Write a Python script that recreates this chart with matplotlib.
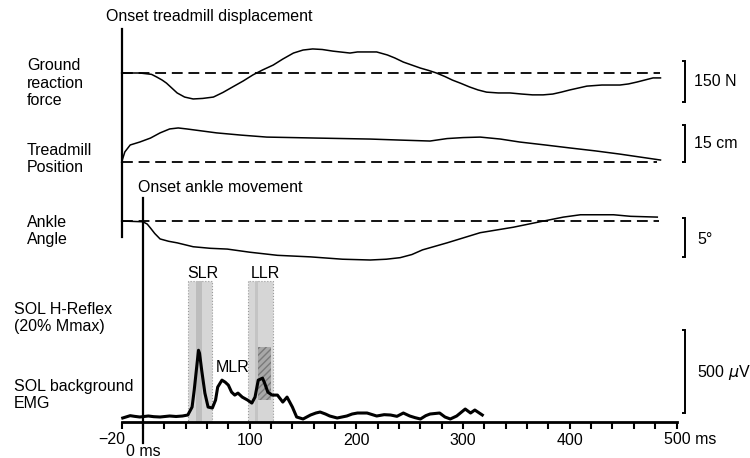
import matplotlib.pyplot as plt

plt.rcParams['font.family'] = ['Liberation Sans', 'DejaVu Sans']
plt.rcParams['font.size'] = 11.5

# ground reaction force (N) vs time (ms)
grf_t = [-20, -3, 8, 13, 18, 22, 27, 32, 39, 47, 56, 66, 75, 84, 94, 103, 112, 122, 131, 141, 150,
         159, 168, 178, 194, 201, 210, 219, 229, 236, 244, 252, 260, 268, 275, 283, 290, 298, 306,
         314, 322, 333, 344, 355, 365, 375, 384, 392, 400, 408, 416, 430, 447, 455, 463, 470, 478, 485]
grf_n = [0, 0, -5, -15, -26, -37, -55, -73, -88, -95, -93, -88, -71, -51, -29, -7, 11, 29, 51, 73, 84,
         88, 86, 80, 73, 77, 77, 77, 66, 55, 40, 29, 18, 9, 0, -13, -26, -38, -51,
         -62, -70, -73, -73, -77, -80, -80, -77, -70, -62, -55, -48, -44, -44, -40, -33, -26, -18, -18]

# treadmill position (cm)
tread_t = [-20, -17, -12, -3, 7, 16, 25, 33, 41, 55, 69, 92, 116, 140, 163, 188, 213, 240, 269, 285,
           300, 316, 335, 353, 377, 400, 424, 447, 466, 485]
tread_cm = [0, 4.1, 6.9, 8.1, 9.7, 11.8, 13.4, 13.8, 13.4, 12.6, 11.8, 10.9, 10.1, 9.9, 9.7, 9.5, 9.3,
            8.9, 8.5, 9.5, 9.9, 10.1, 9.3, 8.1, 6.9, 5.7, 4.5, 3.2, 2.0, 0.8]

# ankle angle (deg)
ankle_t = [-20, 0, 4, 7, 11, 16, 24, 32, 47, 63, 79, 100, 126, 157, 187, 213, 228, 241, 252, 262,
           285, 316, 347, 372, 394, 410, 441, 457, 482]
ankle_deg = [0, -0.1, -0.4, -0.9, -1.6, -2.3, -2.6, -2.8, -3.3, -3.5, -3.6, -4.0, -4.4, -4.6, -4.9,
             -5.0, -4.9, -4.7, -4.3, -3.7, -2.8, -1.5, -0.8, -0.1, 0.5, 0.8, 0.8, 0.6, 0.5]

# SOL background EMG (uV)
emg_t = [-19, -12, -8, -3, 5, 10, 16, 25, 31, 37, 42, 46, 48, 51, 52, 53, 55, 58, 61, 65, 68, 70,
         74, 77, 80, 83, 86, 89, 93, 98, 102, 105, 108, 112, 114, 117, 121, 126, 131, 135, 140,
         144, 150, 157, 162, 166, 171, 175, 182, 191, 196, 201, 210, 219, 226, 232, 238, 244, 250,
         255, 260, 265, 269, 278, 283, 288, 294, 302, 307, 311, 318]
emg_uv = [-6, 8, 4, 0, 6, 2, 0, 6, 3, 6, 12, 60, 162, 342, 402, 384, 282, 144, 60, 54, 102, 180,
          222, 210, 192, 150, 132, 144, 120, 102, 84, 120, 222, 234, 204, 150, 132, 132, 90, 120, 60,
          0, -12, 12, 24, 30, 18, 6, -6, 6, 18, 24, 24, 6, 14, 12, 4, 24, 6,
          -4, -12, 8, 18, 24, 0, -12, 6, 48, 24, 42, 12]

slr_win = (42, 65)
llr_win = (98, 122)
box_top_uv = 819

W, H = 750, 458
X0_PX, PX_PER_MS = 143, 1.067
XLIM = (-X0_PX / PX_PER_MS, (W - X0_PX) / PX_PER_MS)

fig = plt.figure(figsize=(7.5, 4.58), dpi=100)


def layer(base_px, px_per_unit):
    ax = fig.add_axes([0, 0, 1, 1])
    ax.set_xlim(XLIM)
    ax.set_ylim(-(H - base_px) / px_per_unit, base_px / px_per_unit)
    ax.set_axis_off()
    ax.patch.set_alpha(0)
    return ax


def ms(xpx):
    return (xpx - X0_PX) / PX_PER_MS


def bracket(ax, lo, hi):
    t = ms(685)
    ax.plot([t - 3, t, t, t - 3], [lo, lo, hi, hi], color='black', lw=1.4,
            solid_capstyle='butt', solid_joinstyle='miter')


dash = (0, (6, 3.2))

ax_grf = layer(73, 41 / 150)
ax_grf.plot(grf_t, grf_n, color='black', lw=1.1)
ax_grf.plot([-20, 485], [0, 0], color='black', lw=1.3, ls=dash)
bracket(ax_grf, 12 * 150 / 41 - 150, 12 * 150 / 41)

ax_tr = layer(162, 37 / 15)
ax_tr.plot(tread_t, tread_cm, color='black', lw=1.1)
ax_tr.plot([-20, 482], [0, 0], color='black', lw=1.3, ls=dash)
bracket(ax_tr, 0, 15)

ax_an = layer(221, 39 / 5)
ax_an.plot(ankle_t, ankle_deg, color='black', lw=1.1)
ax_an.plot([-20, 484], [0, 0], color='black', lw=1.3, ls=dash)
bracket(ax_an, 3 / 7.8 - 5, 3 / 7.8)

ax_emg = layer(417, 83 / 500)
axis_uv = -(422 - 417) * 500 / 83
for w in (slr_win, llr_win):
    ax_emg.fill_between(w, axis_uv, box_top_uv, facecolor='#d6d6d6', edgecolor='#9a9a9a',
                        lw=0.8, ls=':', zorder=1)
ax_emg.fill_between((50, 55), axis_uv, box_top_uv, facecolor='#bdbdbd', lw=0, zorder=1.5)
ax_emg.fill_between((105, 108), axis_uv, box_top_uv, facecolor='#c4c4c4', lw=0, zorder=1.5)
ax_emg.fill_between((108, 120), 100, 420, facecolor='#a8a8a8', hatch='/////',
                    edgecolor='#7a7a7a', lw=0, zorder=1.5)
ax_emg.plot(emg_t, emg_uv, color='black', lw=2.2, zorder=3)
bracket(ax_emg, (417 - 413) * 500 / 83, (417 - 330) * 500 / 83)

# time axis
ax_emg.set_axis_on()
for s in ('top', 'left', 'right'):
    ax_emg.spines[s].set_visible(False)
ax_emg.spines['bottom'].set_position(('data', axis_uv))
ax_emg.spines['bottom'].set_bounds(-20, 500)
ax_emg.spines['bottom'].set_linewidth(2.0)
ticks = list(range(-20, 501, 20))
labels = [str(t) if t in (100, 200, 300, 400) else '' for t in ticks]
ax_emg.set_xticks(ticks, labels)
ax_emg.set_yticks([])
ax_emg.tick_params(axis='x', direction='out', length=5, width=1.5, pad=3, labelsize=11.5)

# overlay in pixel rows
ov = fig.add_axes([0, 0, 1, 1])
ov.set_xlim(XLIM)
ov.set_ylim(H, 0)
ov.set_axis_off()
ov.patch.set_alpha(0)
ov.plot([-20, -20], [29, 237], color='black', lw=1.6)
ov.plot([0, 0], [198, 443], color='black', lw=1.6)

txt = dict(va='center', linespacing=1.2)
ov.text(ms(106), 16, 'Onset treadmill displacement', ha='left', **txt)
ov.text(ms(138), 188, 'Onset ankle movement', ha='left', **txt)
ov.text(ms(27), 83, 'Ground\nreaction\nforce', ha='left', **txt)
ov.text(ms(27), 159, 'Treadmill\nPosition', ha='left', **txt)
ov.text(ms(27), 231, 'Ankle\nAngle', ha='left', **txt)
ov.text(ms(14), 318, 'SOL H-Reflex\n(20% Mmax)', ha='left', **txt)
ov.text(ms(14), 395, 'SOL background\nEMG', ha='left', **txt)
ov.text(ms(203), 273, 'SLR', ha='center', **txt)
ov.text(ms(265), 273, 'LLR', ha='center', **txt)
ov.text(ms(233), 368, 'MLR', ha='center', zorder=4, **txt)
ov.text(ms(694), 82, '150 N', ha='left', **txt)
ov.text(ms(694), 144, '15 cm', ha='left', **txt)
ov.text(ms(697), 240, '5°', ha='left', **txt)
ov.text(ms(697), 373, '500 $\\mu$V', ha='left', **txt)
ov.text(ms(112), 439, '\u221220', ha='center', **txt)
ov.text(ms(143), 452, '0 ms', ha='center', **txt)
ov.text(ms(664), 439, '500 ms', ha='left', **txt)

fig.savefig('out.png', dpi=100)
